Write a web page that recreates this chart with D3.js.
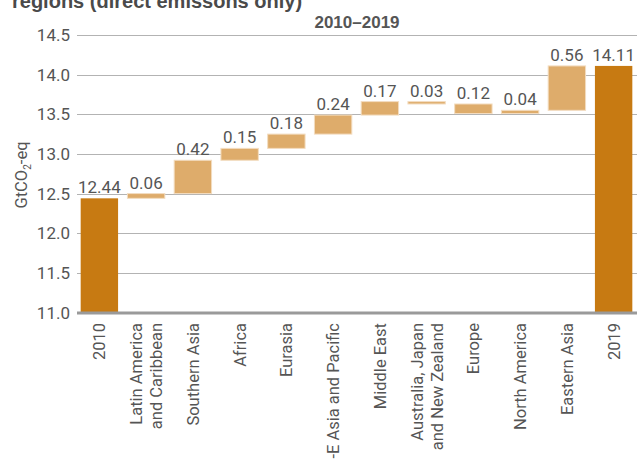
<!DOCTYPE html>
<html>
<head>
<meta charset="utf-8">
<script src="https://cdn.jsdelivr.net/npm/d3@7"></script>
<style>
  body { margin: 0; background: #fff; }
  svg text { font-family: Roboto, "Liberation Sans", sans-serif; }
</style>
</head>
<body>
<script>
var w = 637;
var h = 459;

// chart values
var categories = [
  ["2010"],
  ["Latin America", "and Caribbean"],
  ["Southern Asia"],
  ["Africa"],
  ["Eurasia"],
  ["S-E Asia and Pacific"],
  ["Middle East"],
  ["Australia, Japan", "and New Zealand"],
  ["Europe"],
  ["North America"],
  ["Eastern Asia"],
  ["2019"]
];
var startValue = 12.44;
var changes = [0.06, 0.42, 0.15, 0.18, 0.24, 0.17, -0.03, -0.12, 0.04, 0.56];
var endValue = 14.11;
var yTicks = [11.0, 11.5, 12.0, 12.5, 13.0, 13.5, 14.0, 14.5];

// build waterfall rows
var rows = [];
rows.push({ i: 0, y0: 11, y1: startValue, label: startValue.toFixed(2), total: true });
var run = startValue;
changes.forEach(function(d, k) {
  rows.push({ i: k + 1, y0: run, y1: run + d, label: Math.abs(d).toFixed(2), total: false });
  run = run + d;
});
rows.push({ i: changes.length + 1, y0: 11, y1: endValue, label: endValue.toFixed(2), total: true });

var xScale = d3.scaleBand()
  .domain(d3.range(categories.length))
  .range([76, 637])
  .paddingInner(0.2)
  .paddingOuter(0.1);

var yScale = d3.scaleLinear()
  .domain([11, 14.5])
  .range([312.5, 35]);

var svg = d3.select("body")
  .append("svg")
  .attr("width", w)
  .attr("height", h);

// gridlines
svg.selectAll("line.grid")
  .data(yTicks.slice(1))
  .enter()
  .append("line")
  .attr("class", "grid")
  .attr("x1", 77)
  .attr("x2", w)
  .attr("y1", function(d) { return Math.round(yScale(d)) + 0.5; })
  .attr("y2", function(d) { return Math.round(yScale(d)) + 0.5; })
  .attr("stroke", "#b3b3b3")
  .attr("stroke-width", 1);

// y tick labels
svg.selectAll("text.ytick")
  .data(yTicks)
  .enter()
  .append("text")
  .attr("class", "ytick")
  .attr("x", 70)
  .attr("y", function(d) { return yScale(d); })
  .attr("dy", "0.36em")
  .attr("text-anchor", "end")
  .attr("font-size", 17)
  .attr("fill", "#555")
  .text(function(d) { return d3.format(".1f")(d); });

// bars
svg.selectAll("rect.bar")
  .data(rows)
  .enter()
  .append("rect")
  .attr("class", "bar")
  .attr("x", function(d) { return xScale(d.i); })
  .attr("y", function(d) { return yScale(Math.max(d.y0, d.y1)); })
  .attr("width", xScale.bandwidth())
  .attr("height", function(d) { return Math.abs(yScale(d.y0) - yScale(d.y1)); })
  .attr("fill", function(d) { return d.total ? "#c77a12" : "#deac6b"; })
  .attr("stroke", function(d) { return d.total ? "none" : "#f3dcc0"; })
  .attr("stroke-width", 1);

// value labels
svg.selectAll("text.val")
  .data(rows)
  .enter()
  .append("text")
  .attr("class", "val")
  .attr("x", function(d) { return xScale(d.i) + xScale.bandwidth() / 2; })
  .attr("y", function(d) { return yScale(Math.max(d.y0, d.y1)) - 5; })
  .attr("text-anchor", "middle")
  .attr("font-size", 17)
  .attr("fill", "#555")
  .text(function(d) { return d.label; });

// baseline axis
svg.append("line")
  .attr("x1", 77)
  .attr("x2", w)
  .attr("y1", 313)
  .attr("y2", 313)
  .attr("stroke", "#9a9a9a")
  .attr("stroke-width", 3);

// category labels, rotated
var cat = svg.selectAll("g.cat")
  .data(categories)
  .enter()
  .append("g")
  .attr("class", "cat")
  .attr("transform", function(d, i) {
    var cx = xScale(i) + xScale.bandwidth() / 2;
    return "translate(" + cx + ",323) rotate(-90)";
  });

cat.selectAll("text")
  .data(function(d) { return d; })
  .enter()
  .append("text")
  .attr("x", 0)
  .attr("y", function(d, j, nodes) {
    var n = nodes.length;
    return 6 + (j - (n - 1) / 2) * 20;
  })
  .attr("text-anchor", "end")
  .attr("font-size", 16.5)
  .attr("fill", "#555")
  .text(function(d) { return d; });

// y axis title
var yt = svg.append("text")
  .attr("transform", "translate(27,175) rotate(-90)")
  .attr("text-anchor", "middle")
  .attr("font-size", 16.5)
  .attr("fill", "#555");
yt.append("tspan").text("GtCO");
yt.append("tspan").attr("font-size", 10).attr("dy", 4).text("2");
yt.append("tspan").attr("dy", -4).text("-eq");

// titles
svg.append("text")
  .attr("x", 12)
  .attr("y", 8)
  .attr("font-size", 20)
  .attr("font-weight", "bold")
  .attr("fill", "#4a4a4a")
  .style("font-family", "'Liberation Sans', sans-serif")
  .text("regions (direct emissons only)");

svg.append("text")
  .attr("x", 357)
  .attr("y", 28)
  .attr("text-anchor", "middle")
  .attr("font-size", 17)
  .attr("font-weight", "bold")
  .attr("fill", "#555")
  .style("font-family", "'Liberation Sans', sans-serif")
  .text("2010\u20132019");
</script>
</body>
</html>
